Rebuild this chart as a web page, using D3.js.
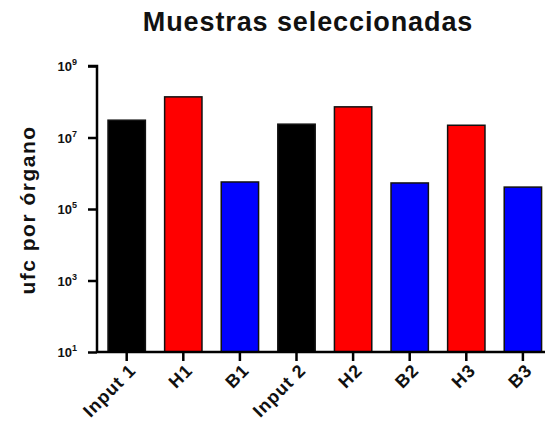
<!DOCTYPE html>
<html>
<head>
<meta charset="utf-8">
<script src="https://cdn.jsdelivr.net/npm/d3@7"></script>
<style>
  html, body { margin: 0; padding: 0; background: #fff; }
  svg { display: block; font-family: "Liberation Sans", Arial, Helvetica, sans-serif; }
</style>
</head>
<body>
<svg id="chart" width="545" height="432"></svg>
<script>
// Colony counts per organ for each selected sample
const categories = ["Input 1", "H1", "B1", "Input 2", "H2", "B2", "H3", "B3"];
const groups     = ["Input", "H", "B", "Input", "H", "B", "H", "B"];
const values     = [3.05e7, 1.37e8, 5.7e5, 2.36e7, 7.2e7, 5.35e5, 2.2e7, 4.1e5];
const tickExponents = [1, 3, 5, 7, 9];
const groupColors = { Input: "#000000", H: "#ff0000", B: "#0000ff" };

const svg = d3.select("#chart");
const W = 545;
const axisX = 97, axisBottom = 352, axisTop = 66;

const y = d3.scaleLog().domain([1e1, 1e9]).range([axisBottom, axisTop]);
const x = d3.scaleBand()
  .domain(categories)
  .range([98.4, 551.2])
  .paddingInner(0.34)
  .paddingOuter(0.17);

// Title
svg.append("text")
  .attr("x", 308).attr("y", 31)
  .attr("text-anchor", "middle")
  .attr("font-size", 27).attr("font-weight", "bold")
  .attr("letter-spacing", 0.9)
  .attr("fill", "#111")
  .text("Muestras seleccionadas");

// Y axis title
svg.append("text")
  .attr("transform", `translate(35,210) rotate(-90)`)
  .attr("text-anchor", "middle")
  .attr("font-size", 21).attr("font-weight", "bold")
  .attr("letter-spacing", 1.5)
  .attr("fill", "#111")
  .text("ufc por órgano");

// Bars
svg.append("g").selectAll("rect")
  .data(categories)
  .join("rect")
  .attr("x", d => x(d))
  .attr("width", x.bandwidth())
  .attr("y", (d, i) => y(values[i]))
  .attr("height", (d, i) => y(1e1) - y(values[i]))
  .attr("fill", (d, i) => groupColors[groups[i]])
  .attr("stroke", "#111")
  .attr("stroke-width", 1.5);

// Y axis
const yAxis = d3.axisLeft(y)
  .tickValues(tickExponents.map(e => Math.pow(10, e)))
  .tickSize(9)
  .tickFormat("");
const yg = svg.append("g").attr("transform", `translate(${axisX},0)`).call(yAxis);
yg.select(".domain").attr("stroke", "#000").attr("stroke-width", 2.5).attr("d", `M-9,${axisTop}H0V${axisBottom}`);
yg.selectAll(".tick line").attr("stroke", "#000").attr("stroke-width", 2.5);

// Y tick labels as powers of ten
const labels = svg.append("g");
tickExponents.forEach(e => {
  const t = labels.append("text")
    .attr("x", axisX - 20)
    .attr("y", y(Math.pow(10, e)) + 5)
    .attr("text-anchor", "end")
    .attr("font-size", 13).attr("font-weight", "bold")
    .attr("fill", "#111");
  t.append("tspan").text("10");
  t.append("tspan").attr("dy", -6).attr("font-size", 9).text(e);
});

// X axis
const xAxis = d3.axisBottom(x).tickSize(9).tickFormat("");
const xg = svg.append("g").attr("transform", `translate(0,${axisBottom})`).call(xAxis);
xg.select(".domain").attr("stroke", "#000").attr("stroke-width", 2.5).attr("d", `M${axisX},0H${W}`);
xg.selectAll(".tick line").attr("stroke", "#000").attr("stroke-width", 2.5);

// X category labels, rotated
svg.append("g").selectAll("text")
  .data(categories)
  .join("text")
  .attr("transform", d => `translate(${x(d) + x.bandwidth() / 2 + 6},${axisBottom + 15}) rotate(-45)`)
  .attr("text-anchor", "end")
  .attr("dy", "0.35em")
  .attr("font-size", 18).attr("font-weight", "bold")
  .attr("letter-spacing", 1)
  .attr("fill", "#111")
  .text(d => d);
</script>
</body>
</html>
